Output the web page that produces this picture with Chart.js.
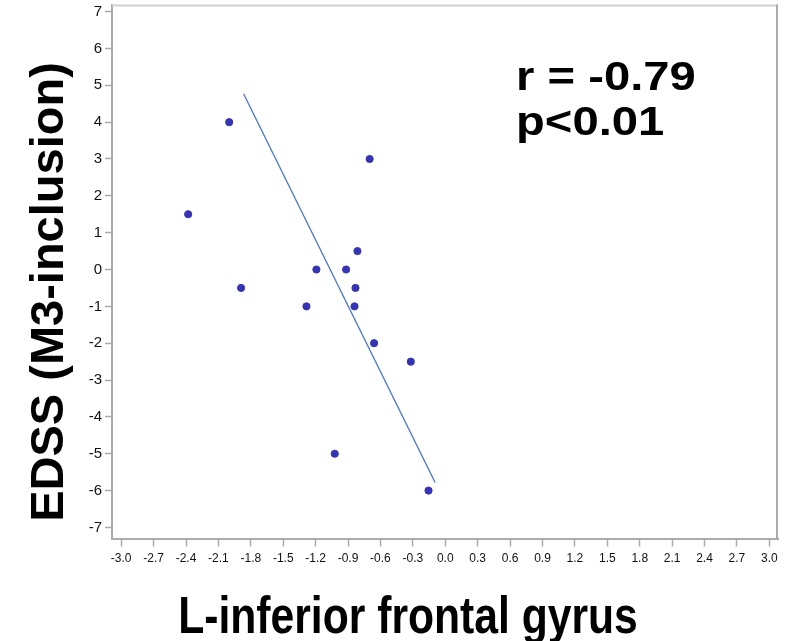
<!DOCTYPE html>
<html lang="en">
<head>
<meta charset="UTF-8">
<title>EDSS vs L-inferior frontal gyrus</title>
<style>
  html, body { margin: 0; padding: 0; background: #fff; }
</style>
</head>
<body>
<canvas id="scatterChart" width="794" height="641"></canvas>

<script src="https://cdn.jsdelivr.net/npm/chart.js@4.4.1/dist/chart.umd.min.js"></script>
<script>
// subject values
var gyrusX = [-2.38, -2.0, -1.89, -1.285, -1.193, -1.023, -0.918, -0.84, -0.831, -0.813, -0.7, -0.659, -0.319, -0.155];
var edssY  = [1.5, 4.0, -0.5, -1.0, 0.0, -5.0, 0.0, -1.0, -0.5, 0.5, 3.0, -2.0, -2.5, -6.0];

// regression line end points
var fitX = [-1.867, -0.094];
var fitY = [4.77, -5.78];

var xTicks = [-3.0, -2.7, -2.4, -2.1, -1.8, -1.5, -1.2, -0.9, -0.6, -0.3, 0.0, 0.3, 0.6, 0.9, 1.2, 1.5, 1.8, 2.1, 2.4, 2.7, 3.0];
var yTicks = [-7, -6, -5, -4, -3, -2, -1, 0, 1, 2, 3, 4, 5, 6, 7];

var xTitle = "L-inferior frontal gyrus";
var yTitle = "EDSS (M3-inclusion)";
var statLines = ["r = -0.79", "p<0.01"];

var points = gyrusX.map(function(x, i) { return { x: x, y: edssY[i] }; });
var fitLine = fitX.map(function(x, i) { return { x: x, y: fitY[i] }; });

var axisGray = "#ababab";
var fontFam = "'Liberation Sans', Arial, sans-serif";

// frame on top/right + big bold labels
var labelsPlugin = {
    id: "labels",
    afterDraw: function(chart) {
        var ctx = chart.ctx;
        var a = chart.chartArea;
        ctx.save();
        ctx.strokeStyle = "#d0d0d0";
        ctx.lineWidth = 2;
        ctx.beginPath();
        ctx.moveTo(a.left, a.top + 1);
        ctx.lineTo(a.right, a.top + 1);
        ctx.stroke();
        ctx.strokeStyle = axisGray;
        ctx.beginPath();
        ctx.moveTo(a.right - 1, a.top);
        ctx.lineTo(a.right - 1, a.bottom);
        ctx.stroke();

        ctx.fillStyle = "#000";
        ctx.textBaseline = "alphabetic";

        // x title
        ctx.save();
        ctx.translate(408, 633);
        ctx.scale(0.82, 1);
        ctx.textAlign = "center";
        ctx.font = "bold 52px " + fontFam;
        ctx.fillText(xTitle, 0, 0);
        ctx.restore();

        // y title
        ctx.save();
        ctx.translate(63, 292);
        ctx.rotate(-Math.PI / 2);
        ctx.textAlign = "center";
        ctx.font = "bold 47px " + fontFam;
        ctx.fillText(yTitle, 0, 0);
        ctx.restore();

        // stats, drawn a bit wide
        ctx.save();
        ctx.translate(516, 0);
        ctx.scale(1.18, 1);
        ctx.textAlign = "left";
        ctx.font = "bold 40px " + fontFam;
        ctx.fillText(statLines[0], 0, 90);
        ctx.fillText(statLines[1], 0, 135);
        ctx.restore();
        ctx.restore();
    }
};

new Chart(document.getElementById("scatterChart").getContext("2d"), {
    type: "scatter",
    data: {
        datasets: [{
            label: "subjects",
            data: points,
            backgroundColor: "#3434b4",
            borderColor: "#3434b4",
            pointRadius: 3.6,
            pointHoverRadius: 3.6,
            order: 1
        }, {
            type: "line",
            label: "fit",
            data: fitLine,
            borderColor: "#4575cf",
            borderWidth: 1.3,
            pointRadius: 0,
            fill: false,
            order: 2
        }]
    },
    options: {
        responsive: false,
        animation: false,
        layout: { padding: { top: 0, right: 16, left: 0, bottom: 0 } },
        plugins: {
            legend: { display: false },
            tooltip: { enabled: false }
        },
        scales: {
            x: {
                type: "linear",
                min: -3.085,
                max: 3.08,
                afterBuildTicks: function(scale) {
                    scale.ticks = xTicks.map(function(v) { return { value: v }; });
                },
                afterFit: function(scale) { scale.height = 102.5; },
                grid: { drawOnChartArea: false, drawTicks: true, tickLength: 8, tickColor: axisGray, tickWidth: 1.5 },
                border: { color: axisGray, width: 2 },
                ticks: {
                    autoSkip: false,
                    maxRotation: 0,
                    padding: 5,
                    color: "#111",
                    font: { family: fontFam, size: 12 },
                    callback: function(v) { return Number(v).toFixed(1); }
                }
            },
            y: {
                type: "linear",
                min: -7.3,
                max: 7.19,
                afterBuildTicks: function(scale) {
                    scale.ticks = yTicks.map(function(v) { return { value: v }; });
                },
                afterFit: function(scale) {
                    scale.width = 112;
                    scale.paddingTop = 0;
                    scale.paddingBottom = 0;
                },
                grid: { drawOnChartArea: false, drawTicks: true, tickLength: 7, tickColor: axisGray, tickWidth: 1.5 },
                border: { color: axisGray, width: 2 },
                ticks: {
                    autoSkip: false,
                    padding: 3,
                    color: "#111",
                    font: { family: fontFam, size: 15 },
                    callback: function(v) { return String(v); }
                }
            }
        }
    },
    plugins: [labelsPlugin]
});
</script>
</body>
</html>
